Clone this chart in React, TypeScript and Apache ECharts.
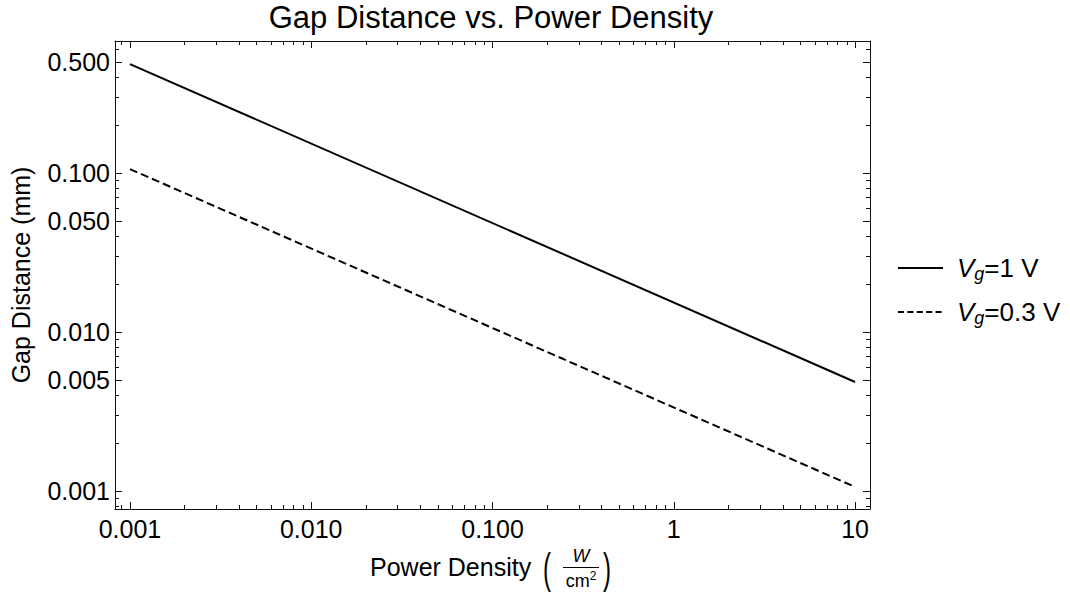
import React, { useEffect, useRef } from "react";
import * as echarts from "echarts";

// ---- data ----
const seriesNames = ["Vg=1 V", "Vg=0.3 V"];
const powerDensity = [0.001, 10]; // W/cm^2
const gapVg1 = [0.485, 0.00485]; // mm
const gapVg03 = [0.106, 0.00106]; // mm

const xRange = [0.000827, 12.09];
const yRange = [0.00077, 0.678];

const xMajorTicks = [0.001, 0.01, 0.1, 1, 10];
const xTickLabels = ["0.001", "0.010", "0.100", "1", "10"];
const xMinorTicks = [
  0.0009, 0.002, 0.003, 0.004, 0.005, 0.006, 0.007, 0.008, 0.009,
  0.02, 0.03, 0.04, 0.05, 0.06, 0.07, 0.08, 0.09,
  0.2, 0.3, 0.4, 0.5, 0.6, 0.7, 0.8, 0.9,
  2, 3, 4, 5, 6, 7, 8, 9,
];
const yMajorTicks = [0.5, 0.1, 0.05, 0.01, 0.005, 0.001];
const yTickLabels = ["0.500", "0.100", "0.050", "0.010", "0.005", "0.001"];
const yMinorTicks = [
  0.6, 0.4, 0.3, 0.2, 0.09, 0.08, 0.07, 0.06, 0.04, 0.03, 0.02,
  0.009, 0.008, 0.007, 0.006, 0.004, 0.003, 0.002, 0.0009, 0.0008,
];

const FONT = "'Liberation Sans', Arial, Helvetica, sans-serif";
const lg = (v: number) => Math.log10(v);

function labelFor(values: number[], labels: string[]) {
  return (v: number) => {
    for (let i = 0; i < values.length; i++) {
      if (Math.abs(lg(values[i]) - v) < 1e-6) return labels[i];
    }
    return "";
  };
}

export default function App() {
  const ref = useRef<HTMLDivElement>(null);
  useEffect(() => {
    if (!ref.current) return;
    const chart = echarts.init(ref.current, undefined, { renderer: "svg" });

    const baseAxis = (min: number, max: number) => ({
      type: "value" as const,
      min: lg(min),
      max: lg(max),
      scale: true,
      splitLine: { show: false },
      axisLine: { show: false, onZero: false },
      axisLabel: { show: false },
      axisTick: { show: false },
    });

    const frameLine = { show: true, onZero: false, lineStyle: { color: "#111", width: 1 } };
    const tickStyle = { color: "#111", width: 1 };

    const xAxis = ["bottom", "top"].flatMap((pos, k) => [
      {
        ...baseAxis(xRange[0], xRange[1]),
        position: pos,
        axisLine: frameLine,
        axisTick: { show: true, inside: true, length: 7, lineStyle: tickStyle, customValues: xMajorTicks.map(lg) },
        axisLabel:
          k === 0
            ? {
                show: true,
                customValues: xMajorTicks.map(lg),
                formatter: labelFor(xMajorTicks, xTickLabels),
                fontFamily: FONT,
                fontSize: 25,
                color: "#000",
                margin: 7,
              }
            : { show: false },
      },
      {
        ...baseAxis(xRange[0], xRange[1]),
        position: pos,
        axisTick: { show: true, inside: true, length: 4, lineStyle: tickStyle, customValues: xMinorTicks.map(lg) },
      },
    ]);

    const yAxis = ["left", "right"].flatMap((pos, k) => [
      {
        ...baseAxis(yRange[0], yRange[1]),
        position: pos,
        axisLine: frameLine,
        axisTick: { show: true, inside: true, length: 7, lineStyle: tickStyle, customValues: yMajorTicks.map(lg) },
        axisLabel:
          k === 0
            ? {
                show: true,
                customValues: yMajorTicks.map(lg),
                formatter: labelFor(yMajorTicks, yTickLabels),
                fontFamily: FONT,
                fontSize: 25,
                color: "#000",
                margin: 5,
              }
            : { show: false },
        ...(k === 0
          ? {
              name: "Gap Distance (mm)",
              nameLocation: "middle",
              nameRotate: 90,
              nameGap: 82,
              nameTextStyle: { fontFamily: FONT, fontSize: 25, color: "#000" },
            }
          : {}),
      },
      {
        ...baseAxis(yRange[0], yRange[1]),
        position: pos,
        axisTick: { show: true, inside: true, length: 4, lineStyle: tickStyle, customValues: yMinorTicks.map(lg) },
      },
    ]);

    const mk = (ys: number[]) => powerDensity.map((x, i) => [lg(x), lg(ys[i])]);

    const richLegend = {
      v: { fontFamily: FONT, fontSize: 26, fontStyle: "italic", color: "#000", lineHeight: 30 },
      g: { fontFamily: FONT, fontSize: 18, fontStyle: "italic", color: "#000", lineHeight: 19, verticalAlign: "bottom" },
      t: { fontFamily: FONT, fontSize: 26, color: "#000", lineHeight: 30 },
    };

    const cx = 581;
    chart.setOption({
      animation: false,
      backgroundColor: "#fff",
      title: {
        text: "Gap Distance vs. Power Density",
        left: 491,
        textAlign: "center",
        top: 2,
        padding: 0,
        textStyle: { fontFamily: FONT, fontSize: 31, fontWeight: "normal", color: "#000" },
      },
      grid: { left: 112, top: 41, width: 758, height: 468, containLabel: false },
      xAxis,
      yAxis,
      legend: {
        orient: "vertical",
        left: 897,
        top: 255,
        padding: 0,
        itemWidth: 45,
        itemHeight: 14,
        itemGap: 16,
        itemStyle: { opacity: 0 },
        data: [
          { name: seriesNames[0], lineStyle: { width: 2, type: "solid" } },
          { name: seriesNames[1], lineStyle: { width: 2, type: [6, 3.4] } },
        ],
        formatter: (name: string) =>
          name === seriesNames[0] ? "{v|V}{g|g}{t|=1 V}" : "{v|V}{g|g}{t|=0.3 V}",
        textStyle: { fontFamily: FONT, fontSize: 26, color: "#000", padding: [0, 0, 0, 9], rich: richLegend },
      },
      series: [
        {
          name: seriesNames[0],
          type: "line",
          xAxisIndex: 0,
          yAxisIndex: 0,
          data: mk(gapVg1),
          showSymbol: false,
          symbol: "none",
          lineStyle: { color: "#000", width: 2, type: "solid" },
          itemStyle: { color: "#000" },
        },
        {
          name: seriesNames[1],
          type: "line",
          xAxisIndex: 0,
          yAxisIndex: 0,
          data: mk(gapVg03),
          showSymbol: false,
          symbol: "none",
          lineStyle: { color: "#000", width: 2, type: [8, 4] },
          itemStyle: { color: "#000" },
        },
      ],
      graphic: [
        {
          type: "text",
          x: 370,
          y: 567,
          style: { text: "Power Density", fontFamily: FONT, fontSize: 25, fill: "#000", verticalAlign: "middle", align: "left" },
        },
        {
          type: "text",
          x: 547,
          y: 568,
          scaleY: 1.75,
          style: { text: "(", fontFamily: FONT, fontSize: 24, fill: "#000", verticalAlign: "middle", align: "center" },
        },
        {
          type: "text",
          x: cx,
          y: 565,
          style: { text: "W", fontFamily: FONT, fontSize: 18, fontStyle: "italic", fill: "#000", verticalAlign: "bottom", align: "center" },
        },
        {
          type: "line",
          shape: { x1: cx - 18, y1: 567.5, x2: cx + 18, y2: 567.5 },
          style: { stroke: "#000", lineWidth: 1 },
        },
        {
          type: "text",
          x: cx,
          y: 570,
          style: {
            text: "cm{s|2}",
            fontFamily: FONT,
            fontSize: 18,
            fill: "#000",
            verticalAlign: "top",
            align: "center",
            rich: { s: { fontFamily: FONT, fontSize: 12, fill: "#000", verticalAlign: "top", lineHeight: 21 } },
          },
        },
        {
          type: "text",
          x: 607,
          y: 568,
          scaleY: 1.75,
          style: { text: ")", fontFamily: FONT, fontSize: 24, fill: "#000", verticalAlign: "middle", align: "center" },
        },
      ],
    });
    return () => chart.dispose();
  }, []);

  return <div ref={ref} style={{ position: "absolute", left: 0, top: 0, width: 1070, height: 592 }} />;
}
